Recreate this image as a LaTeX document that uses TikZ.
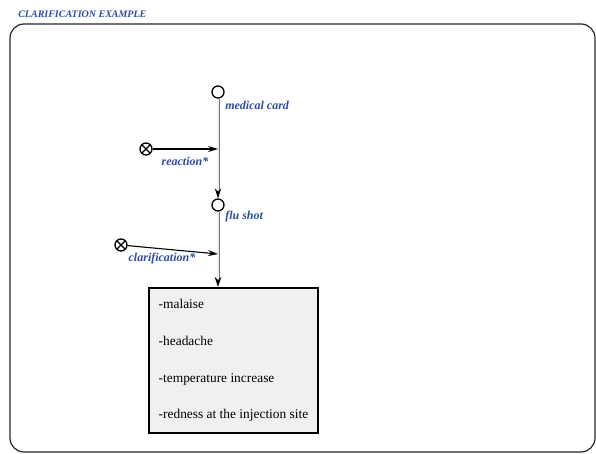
\documentclass[tikz,border=0pt]{standalone}
\usepackage{fontspec}
\setmainfont{Liberation Serif}
\usetikzlibrary{arrows,arrows.meta,positioning}
\definecolor{labelcolor}{rgb}{0.18,0.30,0.62}
\definecolor{boxcolor}{rgb}{0.94,0.94,0.94}

\begin{document}
\begin{tikzpicture}[x=1pt,y=-1pt,>={Stealth[length=10pt,width=6pt]},semithick]
  \tikzstyle{place}=[circle,draw=black,line width=1.3pt,minimum size=12pt,inner sep=0pt,fill=white]
  \tikzstyle{xplace}=[place,path picture={\draw[line width=1.3pt]
      (path picture bounding box.south west) -- (path picture bounding box.north east)
      (path picture bounding box.north west) -- (path picture bounding box.south east);}]
  \tikzstyle{flow}=[-{Stealth[length=10pt,width=6.5pt,black]},draw=black!55,double=black!6,
      double distance=1.4pt,line width=0.8pt]
  \tikzstyle{lbl}=[text=labelcolor,font=\fontsize{12}{13}\selectfont\bfseries\itshape,inner sep=1pt]
  \tikzstyle{symbox}=[draw=black,line width=2pt,fill=boxcolor,minimum width=169pt,
      minimum height=145pt,inner xsep=5pt,align=left,
      font=\fontsize{13.4}{36.7}\selectfont]

  \useasboundingbox (0,0) rectangle (596,454);
  \draw[rounded corners=14pt,line width=1.2pt,draw=black!85] (10,24) rectangle (595,452);
  \node[lbl,anchor=west,font=\fontsize{10}{11}\selectfont\bfseries\itshape] (title) at (17,14) {CLARIFICATION EXAMPLE};

  \node[place]  (mcard) at (218,92) {};
  \node[place]  (fshot) at (218,205) {};
  \node[xplace] (reac)  at (146,149) {};
  \node[xplace] (clar)  at (121,245) {};
  \node[symbox,anchor=north west] (symptoms) at (148,287)
       {-malaise\\-headache\\-temperature increase\\-redness at the injection site};

  \node[lbl,anchor=west] (mcardlbl) at (224,105) {medical card};
  \node[lbl,anchor=west] (fshotlbl) at (224,217) {flu shot};
  \node[lbl] (reaclbl) at (185,161) {reaction*};
  \node[lbl] (clarlbl) at (162,259) {clarification*};

  \coordinate (reacend) at (mcard |- reac);
  \coordinate (clarend) at (218,254);

  \draw[flow] (mcard) -- (fshot);
  \draw[flow] (fshot) -- (fshot |- symptoms.north);
  \draw[->,line width=1.1pt] (reac) -- (reacend);
  \draw[->,line width=1.1pt] (clar) -- (clarend);
\end{tikzpicture}
\end{document}
